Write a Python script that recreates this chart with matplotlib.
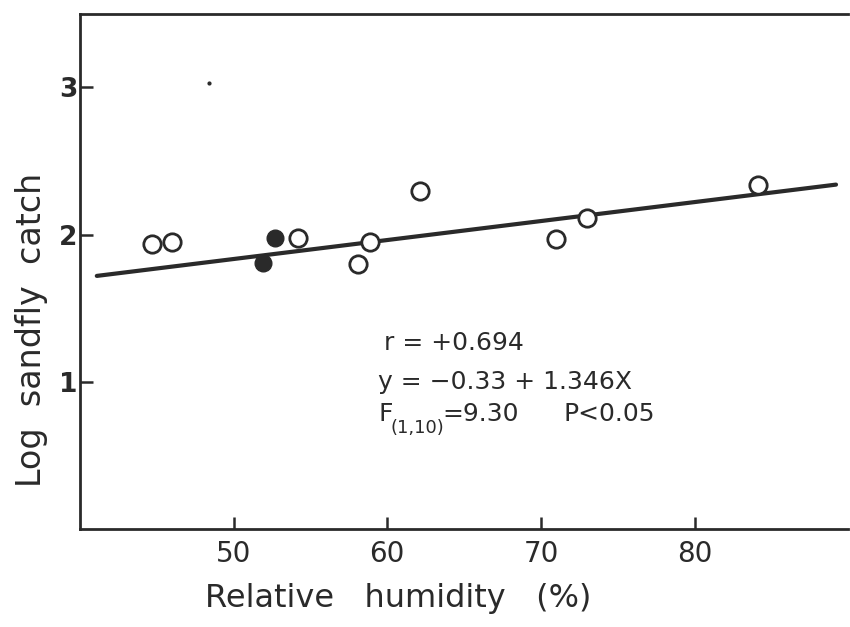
import matplotlib
matplotlib.use("Agg")
import matplotlib.pyplot as plt

# Relative humidity (%) vs log sandfly catch
open_x = [44.7, 46.0, 54.2, 58.1, 58.9, 62.1, 71.0, 73.0, 84.1]
open_y = [1.94, 1.95, 1.98, 1.80, 1.95, 2.30, 1.97, 2.11, 2.34]
filled_x = [51.9, 52.7]
filled_y = [1.81, 1.98]

# regression line end points
line_x = [41.1, 89.2]
line_y = [1.72, 2.34]

x_ticks = [50, 60, 70, 80]
y_ticks = [1, 2, 3]

ink = "#2a2a2a"
plt.rcParams["font.family"] = "DejaVu Sans"

fig = plt.figure(figsize=(8.5, 6.27), dpi=100)
ax = fig.add_axes([0.094, 0.156, 0.904, 0.822])

ax.plot(line_x, line_y, color=ink, lw=3.0, solid_capstyle="round", zorder=2)
ax.plot(open_x, open_y, "o", ms=12.5, mfc="white", mec=ink, mew=2.0, zorder=3)
ax.plot(filled_x, filled_y, "o", ms=12, mfc=ink, mec=ink, zorder=3)
# small speck in the original scan
ax.plot([48.4], [3.03], "o", ms=2, color=ink)

ax.set_xlim(40, 90)
ax.set_ylim(0, 3.5)
ax.set_xticks(x_ticks)
ax.set_yticks(y_ticks)
ax.tick_params(axis="both", direction="in", length=9, width=1.8, color=ink)
ax.tick_params(axis="x", labelsize=20, labelcolor=ink, pad=8)
ax.tick_params(axis="y", labelsize=19, labelcolor=ink, pad=2)
for lab in ax.get_yticklabels():
    lab.set_fontweight("bold")

for side in ["left", "bottom", "top"]:
    ax.spines[side].set_linewidth(2.0)
    ax.spines[side].set_color(ink)
ax.spines["right"].set_visible(False)

ax.set_xlabel("Relative   humidity   (%)", fontsize=23, color=ink)
ax.set_ylabel("Log  sandfly  catch", fontsize=24, color=ink)
ax.xaxis.set_label_coords(0.414, -0.105)
ax.yaxis.set_label_coords(-0.042, 0.386)

# regression statistics
ax.text(59.8, 1.263, "r = +0.694", fontsize=18, color=ink, va="center")
ax.text(59.4, 1.0, "y = \u22120.33 + 1.346X", fontsize=18, color=ink, va="center")
ax.text(59.4, 0.785, "F", fontsize=18, color=ink, va="center")
ax.text(60.2, 0.69, "(1,10)", fontsize=13, color=ink, va="center")
ax.text(63.6, 0.785, "=9.30", fontsize=18, color=ink, va="center")
ax.text(71.5, 0.785, "P<0.05", fontsize=18, color=ink, va="center")

fig.savefig("out.png", dpi=100, facecolor="white")
